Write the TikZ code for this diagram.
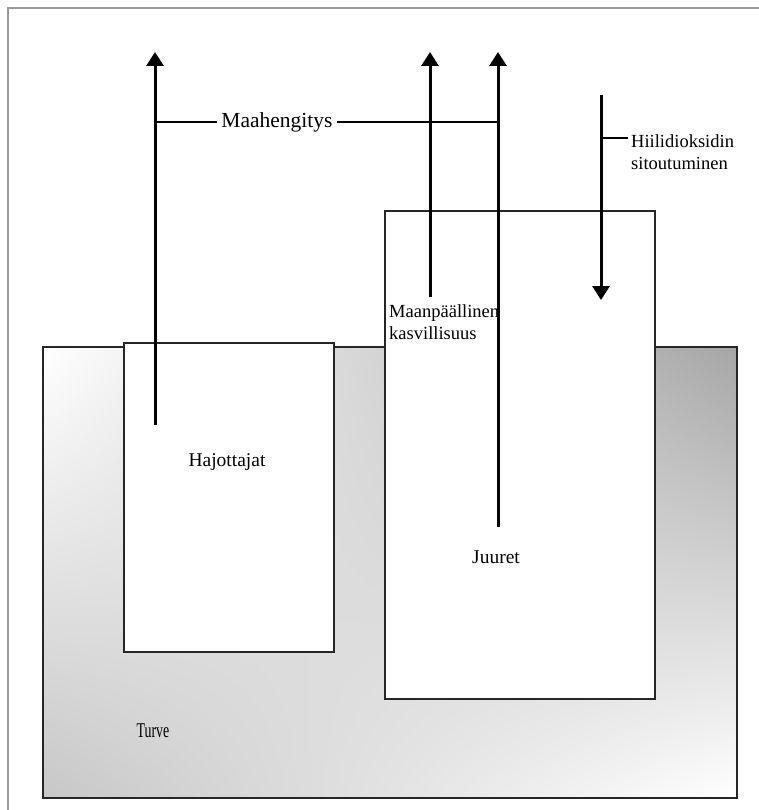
\documentclass[tikz,border=0pt]{standalone}
\usepackage{fontspec}
\setmainfont{Liberation Serif}
\usetikzlibrary{arrows.meta,shadings}
\begin{document}
\begin{tikzpicture}[x=1pt,y=-1pt,
  box/.style={draw=black!85, line width=1.4pt, fill=white, inner sep=0pt},
  flow/.style={line width=3pt, -{Triangle[width=17pt,length=14pt]}},
  thinline/.style={line width=2pt},
  lbl/.style={font=\fontsize{19.5}{22}\selectfont, inner sep=1pt},
  small/.style={font=\fontsize{18.5}{21.5}\selectfont, inner sep=0pt, align=left}
]
\useasboundingbox (0,0) rectangle (758,810);
% outer frame
\draw[line width=1.5pt, draw=black!40] (8,812) -- (8,8) -- (760,8);
% peat
\node[box, shade, upper left=white, upper right=black!35, lower left=black!22, lower right=white,
      minimum width=694pt, minimum height=451pt] (turve) at (390,572.5) {};
\node[box, minimum width=270pt, minimum height=488pt] (juuret) at (520,455) {};
\node[box, minimum width=210pt, minimum height=309pt] (hajo) at (229,497.5) {};
% labels
\node[lbl] (tHajo) at (227,462) {Hajottajat};
\node[lbl] (tJuuret) at (496,557) {Juuret};
\node[lbl, font=\fontsize{21}{24}\selectfont, xscale=0.66] (tTurve) at (153,731) {Turve};
\node[small, anchor=west] (tKasvi) at (389,322) {Maanpäällinen\\kasvillisuus};
\node[small, anchor=west] (tHiili) at (631,152) {Hiilidioksidin\\sitoutuminen};
% arrow coordinates
\coordinate (s1) at (155,425); \coordinate (e1) at (155,52);
\coordinate (s2) at (430,297); \coordinate (e2) at (430,52);
\coordinate (s3) at (498,527); \coordinate (e3) at (498,52);
\coordinate (s4) at (601,95);  \coordinate (e4) at (601,300);
\coordinate (m1) at (155,122); \coordinate (m3) at (498,122);
\coordinate (h1) at (601,138); \coordinate (h2) at (628,138);
% connectors
\draw[thinline] (m1) -- (m3);
\draw[thinline] (h1) -- (h2);
\draw[flow] (s1) -- (e1);
\draw[flow] (s2) -- (e2);
\draw[flow] (s3) -- (e3);
\draw[flow] (s4) -- (e4);
\node[lbl, fill=white, font=\fontsize{21.5}{24}\selectfont, inner xsep=4pt] (tMaa) at (277,122) {Maahengitys};
\end{tikzpicture}
\end{document}
